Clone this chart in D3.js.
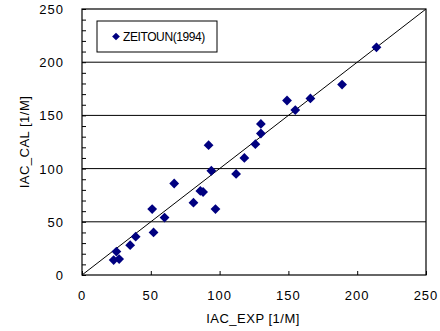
<!DOCTYPE html>
<html>
<head>
<meta charset="utf-8">
<script src="https://cdn.jsdelivr.net/npm/d3@7"></script>
<style>
body { margin: 0; background: #fff; }
text { font-family: "Liberation Sans", Arial, sans-serif; fill: #000; }
</style>
</head>
<body>
<svg id="chart"></svg>
<script>
const seriesName = 'ZEITOUN(1994)';
const iacExp = [214, 189, 166, 149, 155, 130, 130, 126, 92, 118, 94, 112, 67, 86, 88, 81, 97, 51, 60, 52, 39, 35, 25, 23, 27];
const iacCal = [214, 179, 166, 164, 155, 142, 133, 123, 122, 110, 98, 95, 86, 79, 78, 68, 62, 62, 54, 40, 36, 28, 22, 14, 15];
const xTicks = [0, 50, 100, 150, 200, 250];
const yTicks = [0, 50, 100, 150, 200, 250];

const width = 440, height = 331;
const plotL = 82, plotR = 426, plotT = 9, plotB = 275;

const svg = d3.select('#chart')
    .attr('width', width)
    .attr('height', height);

const x = d3.scaleLinear().domain([0, 250]).range([plotL, plotR]);
const y = d3.scaleLinear().domain([0, 250]).range([plotB, plotT]);

// gridlines
svg.append('g')
    .selectAll('line')
    .data(yTicks.filter(d => d > 0 && d < 250))
    .enter()
    .append('line')
    .attr('x1', plotL)
    .attr('x2', plotR)
    .attr('y1', d => y(d))
    .attr('y2', d => y(d))
    .attr('stroke', '#000')
    .attr('stroke-width', 1);

// frame
svg.append('rect')
    .attr('x', plotL)
    .attr('y', plotT)
    .attr('width', plotR - plotL)
    .attr('height', plotB - plotT)
    .attr('fill', 'none')
    .attr('stroke', '#000')
    .attr('stroke-width', 1.2);

// y axis, minor ticks inward
const yAxis = d3.axisRight(y)
    .tickValues(d3.range(0, 251, 10))
    .tickSize(4)
    .tickFormat('');
svg.append('g')
    .attr('transform', `translate(${plotL},0)`)
    .call(yAxis)
    .call(g => g.select('.domain').remove());

const xAxis = d3.axisTop(x)
    .tickValues(xTicks)
    .tickSize(4)
    .tickFormat('');
svg.append('g')
    .attr('transform', `translate(0,${plotB})`)
    .call(xAxis)
    .call(g => g.select('.domain').remove());

// tick labels
svg.append('g')
    .selectAll('text')
    .data(xTicks)
    .enter()
    .append('text')
    .attr('x', d => x(d))
    .attr('y', 300)
    .attr('text-anchor', 'middle')
    .attr('font-size', 13)
    .attr('letter-spacing', 1)
    .text(d => d);

svg.append('g')
    .selectAll('text')
    .data(yTicks)
    .enter()
    .append('text')
    .attr('x', 64)
    .attr('y', d => y(d) + 5)
    .attr('text-anchor', 'end')
    .attr('font-size', 13)
    .attr('letter-spacing', 1)
    .text(d => d);

// axis titles
svg.append('text')
    .attr('x', 253)
    .attr('y', 323)
    .attr('text-anchor', 'middle')
    .attr('font-size', 13)
    .attr('letter-spacing', 0.5)
    .text('IAC_EXP [1/M]');

svg.append('text')
    .attr('transform', `translate(29,${(plotT + plotB) / 2}) rotate(-90)`)
    .attr('text-anchor', 'middle')
    .attr('font-size', 13)
    .attr('letter-spacing', 0.5)
    .text('IAC_CAL [1/M]');

// 1:1 line
svg.append('line')
    .attr('x1', x(0))
    .attr('y1', y(0))
    .attr('x2', x(250))
    .attr('y2', y(250))
    .attr('stroke', '#000')
    .attr('stroke-width', 1);

// points
const diamond = d3.symbol().type(d3.symbolSquare).size(48);
svg.append('g')
    .selectAll('path')
    .data(iacExp.map((v, i) => [v, iacCal[i]]))
    .enter()
    .append('path')
    .attr('d', diamond)
    .attr('transform', d => `translate(${x(d[0])},${y(d[1])}) rotate(45)`)
    .attr('fill', '#000080');

// legend
const legend = svg.append('g');
legend.append('rect')
    .attr('x', 97)
    .attr('y', 21)
    .attr('width', 120)
    .attr('height', 31)
    .attr('fill', '#fff')
    .attr('stroke', '#000')
    .attr('stroke-width', 1);
legend.append('path')
    .attr('d', d3.symbol().type(d3.symbolSquare).size(30))
    .attr('transform', 'translate(116,36.5) rotate(45)')
    .attr('fill', '#000080');
legend.append('text')
    .attr('x', 123)
    .attr('y', 41)
    .attr('font-size', 12)
    .attr('letter-spacing', -0.4)
    .text(seriesName);
</script>
</body>
</html>
